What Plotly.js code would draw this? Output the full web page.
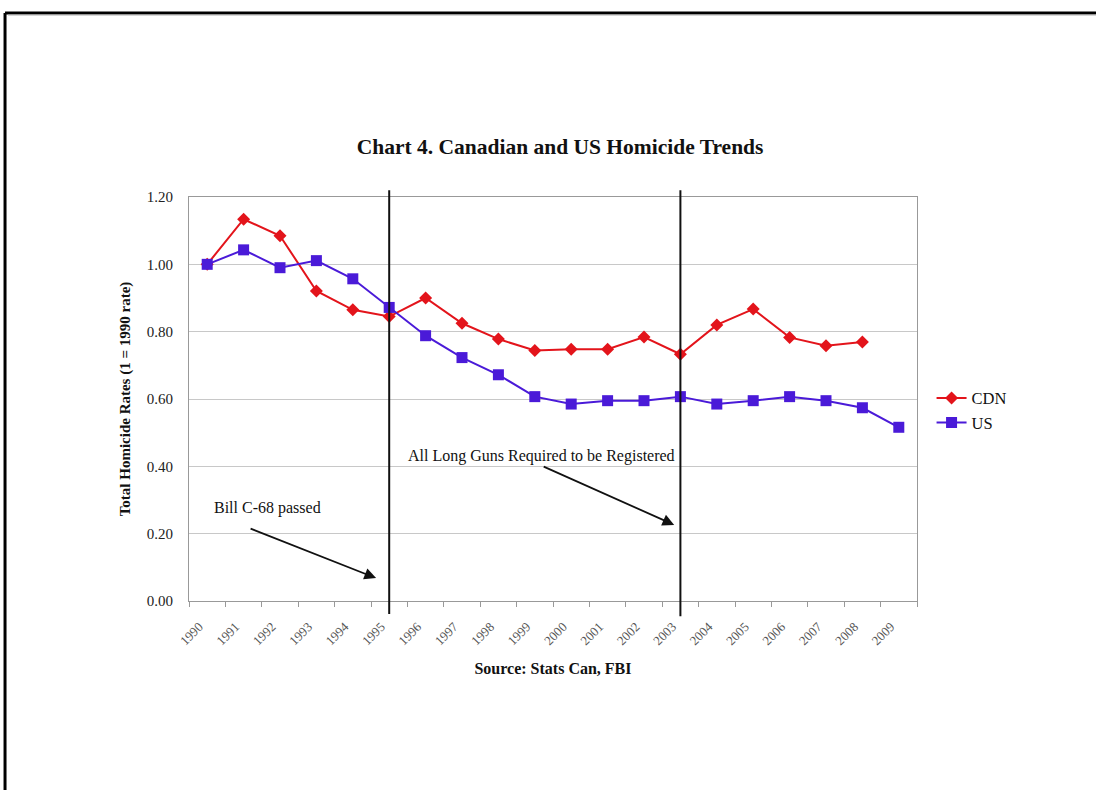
<!DOCTYPE html>
<html>
<head>
<meta charset="utf-8">
<script src="https://cdn.plot.ly/plotly-3.0.1.min.js"></script>
<style>body{margin:0;padding:0;background:#fff;}#chart{width:1096px;height:790px;}</style>
</head>
<body>
<div id="chart"></div>
<script>
const years = ['1990','1991','1992','1993','1994','1995','1996','1997','1998','1999',
               '2000','2001','2002','2003','2004','2005','2006','2007','2008','2009'];
const cdn = [1.00,1.134,1.085,0.921,0.865,0.845,0.900,0.825,0.778,0.744,
             0.748,0.748,0.784,0.733,0.820,0.867,0.783,0.758,0.769,null];
const us  = [1.00,1.043,0.990,1.011,0.957,0.872,0.788,0.723,0.672,0.607,
             0.585,0.595,0.595,0.607,0.585,0.595,0.607,0.595,0.574,0.516];
const yTicks = [0,0.2,0.4,0.6,0.8,1.0,1.2];
const eventYears = ['1995','2003'];
const eventLabels = ['Bill C-68 passed','All Long Guns Required to be Registered'];

const serif = 'Liberation Serif, Times New Roman, serif';

const traces = [
  {x: years, y: cdn, name: 'CDN', type: 'scatter', mode: 'lines+markers',
   line: {color: '#e3141b', width: 2},
   marker: {symbol: 'diamond', size: 10, color: '#e3141b'}},
  {x: years, y: us, name: 'US', type: 'scatter', mode: 'lines+markers',
   line: {color: '#4a1ad8', width: 2},
   marker: {symbol: 'square', size: 11, color: '#4a1ad8'}}
];

const shapes = [
  // outer frame (top and left) with soft inner shade
  {type:'line', xref:'paper', yref:'paper', x0:-0.2527, x1:1.25, y0:1.4555, y1:1.4555, line:{color:'#000', width:3}},
  {type:'line', xref:'paper', yref:'paper', x0:-0.2527, x1:-0.2527, y0:1.4555, y1:-0.47, line:{color:'#000', width:3}},
  {type:'line', xref:'paper', yref:'paper', x0:-0.2486, x1:1.25, y0:1.4505, y1:1.4505, line:{color:'#aaa', width:1}}
];
eventYears.forEach((yr, i) => {
  shapes.push({type:'line', xref:'x', yref:'paper', x0: years.indexOf(yr), x1: years.indexOf(yr),
               y0: i === 0 ? -0.032 : -0.038, y1: 1.017, line:{color:'#111', width:2}});
});

const annotations = [
  {x: 1.65, y: 0.276, xref:'x', yref:'y', text: eventLabels[0], showarrow:false,
   font:{family: serif, size:16, color:'#111'}},
  {x: 4.64, y: 0.068, xref:'x', yref:'y', text:'', showarrow:true, arrowhead:2, arrowsize:1.3,
   arrowwidth:1.8, arrowcolor:'#111', ax:-127, ay:-50},
  {x: 9.18, y: 0.431, xref:'x', yref:'y', text: eventLabels[1], showarrow:false,
   font:{family: serif, size:16, color:'#111'}},
  {x: 12.83, y: 0.226, xref:'x', yref:'y', text:'', showarrow:true, arrowhead:2, arrowsize:1.3,
   arrowwidth:1.8, arrowcolor:'#111', ax:-132, ay:-59}
];

const layout = {
  width: 1096, height: 790,
  margin: {l:189, r:179, t:197, b:189, pad:0},
  paper_bgcolor:'#fff', plot_bgcolor:'#fff',
  font: {family: serif, color:'#222'},
  title: {text: '<b>Chart 4. Canadian and US Homicide Trends</b>', font:{family: serif, size:21.5, color:'#111'},
          x: 0.511, xanchor:'center', y: 0.815, yanchor:'middle'},
  xaxis: {type:'category', tickson:'boundaries', ticks:'outside', ticklen:5, tickcolor:'#999',
          tickangle:-45, tickfont:{family: serif, size:13, color:'#555'},
          ticklabelshift:-8, ticklabelstandoff:12,
          showline:true, linecolor:'#999', linewidth:1, mirror:true, showgrid:false, zeroline:false,
          range:[-0.5, 19.5],
          title:{text:'<b>Source: Stats Can, FBI</b>', font:{family: serif, size:16, color:'#111'}, standoff:15}},
  yaxis: {range:[0,1.2], tickvals: yTicks, tickformat:'.2f', showgrid:true, gridcolor:'#c8c8c8',
          showline:true, linecolor:'#999', linewidth:1, mirror:true, zeroline:false,
          ticks:'', ticklabelstandoff: 12, tickfont:{family: serif, size:15, color:'#222'},
          title:{text:'<b>Total Homicide Rates (1 = 1990 rate)</b>', font:{family: serif, size:15, color:'#111'}, standoff:12}},
  legend: {x:1.02, y:0.545, xanchor:'left', yanchor:'top', font:{family: serif, size:16.5, color:'#111'},
           bgcolor:'rgba(0,0,0,0)', itemwidth:30, tracegroupgap:0},
  showlegend: true,
  shapes: shapes,
  annotations: annotations
};

Plotly.newPlot('chart', traces, layout, {displayModeBar:false, staticPlot:true});
</script>
</body>
</html>
